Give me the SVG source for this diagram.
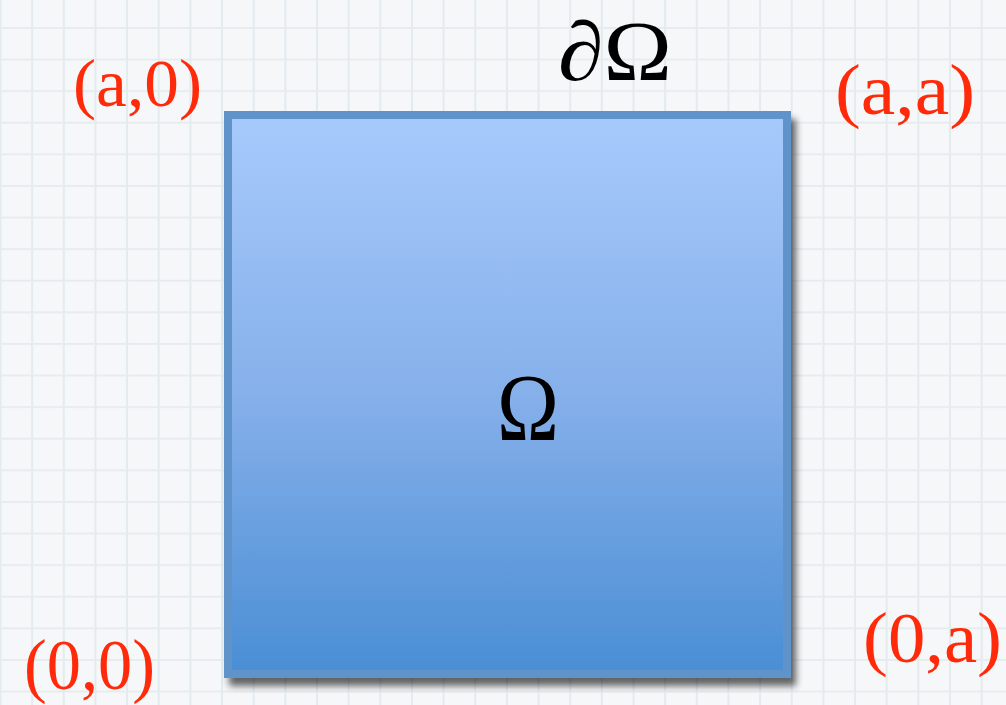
<svg xmlns="http://www.w3.org/2000/svg" width="1006" height="705" viewBox="0 0 1006 705">
  <style>
    .coord { font-family: 'Liberation Serif', 'Times New Roman', serif; fill: #ff2a0a; }
    .math { font-family: 'Liberation Serif', 'Times New Roman', serif; fill: #000000; }
  </style>
  <defs>
    <pattern id="grid" patternUnits="userSpaceOnUse" x="-0.5" y="-4.6" width="31.65" height="31.6">
      <rect x="0" y="0" width="31.65" height="31.6" fill="#f5f7f8"/>
      <line x1="1" y1="0" x2="1" y2="31.6" stroke="#e3ebef" stroke-width="2"/>
      <line x1="0" y1="0.8" x2="31.65" y2="0.8" stroke="#e6ecee" stroke-width="2"/>
    </pattern>
    <linearGradient id="fillGrad" x1="0" y1="0" x2="0" y2="1">
      <stop offset="0" stop-color="#a7cafc"/>
      <stop offset="0.5" stop-color="#86b0ea"/>
      <stop offset="1" stop-color="#4a8ed4"/>
    </linearGradient>
    <filter id="shadow" x="-10%" y="-10%" width="130%" height="130%">
      <feGaussianBlur in="SourceAlpha" stdDeviation="3.5"/>
      <feOffset dx="5" dy="8" result="b"/>
      <feComponentTransfer><feFuncA type="linear" slope="0.6"/></feComponentTransfer>
      <feMerge><feMergeNode/><feMergeNode in="SourceGraphic"/></feMerge>
    </filter>
  </defs>
  <rect x="0" y="0" width="1006" height="705" fill="url(#grid)"/>
  <g id="domain">
    <rect x="228" y="115" width="559" height="559" fill="url(#fillGrad)" stroke="#5f93c9" stroke-width="8" filter="url(#shadow)"/>
    <text class="math" x="528" y="440" font-size="96" text-anchor="middle" textLength="62" lengthAdjust="spacingAndGlyphs">Ω</text>
  </g>
  <g id="boundary">
    <text class="math" x="558" y="80" font-size="84" textLength="114" lengthAdjust="spacingAndGlyphs">∂Ω</text>
  </g>
  <g id="corner-a0">
    <text class="coord" x="73" y="106" font-size="68" textLength="129" lengthAdjust="spacingAndGlyphs">(a,0)</text>
  </g>
  <g id="corner-aa">
    <text class="coord" x="835" y="114" font-size="72" textLength="140" lengthAdjust="spacingAndGlyphs">(a,a)</text>
  </g>
  <g id="corner-00">
    <text class="coord" x="24" y="689" font-size="72" textLength="131" lengthAdjust="spacingAndGlyphs">(0,0)</text>
  </g>
  <g id="corner-0a">
    <text class="coord" x="863" y="662" font-size="72" textLength="139" lengthAdjust="spacingAndGlyphs">(0,a)</text>
  </g>
  <g id="connectors"/>
</svg>
